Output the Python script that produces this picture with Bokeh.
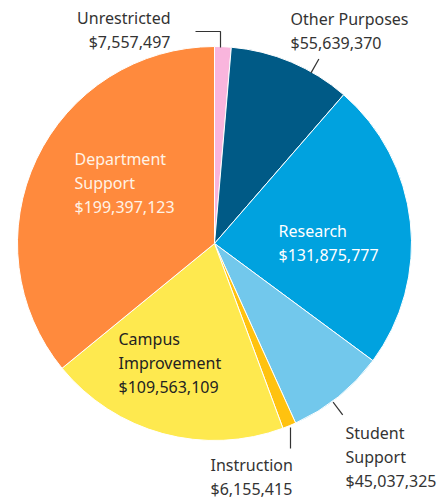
import math
from bokeh.plotting import figure
from bokeh.models import Range1d, ColumnDataSource
from bokeh.core.properties import value
from bokeh.embed import file_html
from bokeh.resources import INLINE

# ---- data (clockwise from 12 o'clock) ----
categories = ["Unrestricted", "Other Purposes", "Research", "Student Support",
              "Instruction", "Campus Improvement", "Department Support"]
amounts = [7557497, 55639370, 131875777, 45037325, 6155415, 109563109, 199397123]
colors = ["#F9B5DD", "#005A86", "#00A2DF", "#72C8EC", "#FFC20F", "#FEE94F", "#FF8A3D"]

# label lines per category
label_lines = {
    "Unrestricted": ["Unrestricted", "$7,557,497"],
    "Other Purposes": ["Other Purposes", "$55,639,370"],
    "Research": ["Research", "$131,875,777"],
    "Student Support": ["Student", "Support", "$45,037,325"],
    "Instruction": ["Instruction", "$6,155,415"],
    "Campus Improvement": ["Campus", "Improvement", "$109,563,109"],
    "Department Support": ["Department", "Support", "$199,397,123"],
}

W, H = 448, 498
# data coords: x = screen x, y = H - screen y
def sy(y):
    return H - y

p = figure(width=W, height=H, output_backend="svg", toolbar_location=None,
           x_range=Range1d(0, W), y_range=Range1d(0, H),
           min_border=0, outline_line_color=None)
p.axis.visible = False
p.grid.visible = False
p.background_fill_color = "white"
p.border_fill_color = "white"

cx, cy, r = 214, sy(243), 197
total = float(sum(amounts))
starts, ends = [], []
cum = 0.0
for a in amounts:
    s = cum / total
    cum += a
    e = cum / total
    # clockwise from top: convert to anticlockwise radians from +x
    starts.append(math.pi / 2 - 2 * math.pi * e)
    ends.append(math.pi / 2 - 2 * math.pi * s)

src = ColumnDataSource(dict(x=[cx] * len(amounts), y=[cy] * len(amounts),
                            start=starts, end=ends, color=colors, cat=categories))
p.wedge(x="x", y="y", radius=r, start_angle="start", end_angle="end",
        fill_color="color", line_color="white", line_width=1, source=src)

# ---- leader lines ----
def radial(bearing_deg, r0, r1):
    b = math.radians(bearing_deg)
    return ([cx + r0 * math.sin(b), cx + r1 * math.sin(b)],
            [cy + r0 * math.cos(b), cy + r1 * math.cos(b)])

lx, ly = radial(29.5, 196, 212)
p.line(lx, ly, line_color="#333333", line_width=1.2)
lx, ly = radial(143.2, 198, 214)
p.line(lx, ly, line_color="#333333", line_width=1.2)
p.line([195, 220, 220], [sy(31), sy(31), sy(47)], line_color="#333333", line_width=1.2)
p.line([290, 290], [sy(427), sy(448)], line_color="#333333", line_width=1.2)

# ---- labels: (x, first line y, align, color) ----
label_pos = {
    "Unrestricted": (170, 17, "right", "#333333"),
    "Other Purposes": (290, 18, "left", "#333333"),
    "Research": (278, 230, "left", "#FFFFFF"),
    "Student Support": (345, 432, "left", "#333333"),
    "Instruction": (210, 464, "left", "#333333"),
    "Campus Improvement": (118, 338, "left", "#222222"),
    "Department Support": (74, 158, "left", "#FFF3E6"),
}
LH = 24
for cat in categories:
    x0, y0, align, col = label_pos[cat]
    lines = label_lines[cat]
    p.text(x=[x0] * len(lines), y=[sy(y0 + i * LH) for i in range(len(lines))],
           text=lines, text_align=align, text_baseline="middle",
           text_font=value("Noto Sans"), text_font_size="16px", text_color=col)

open("out.html", "w").write(file_html(p, INLINE))
